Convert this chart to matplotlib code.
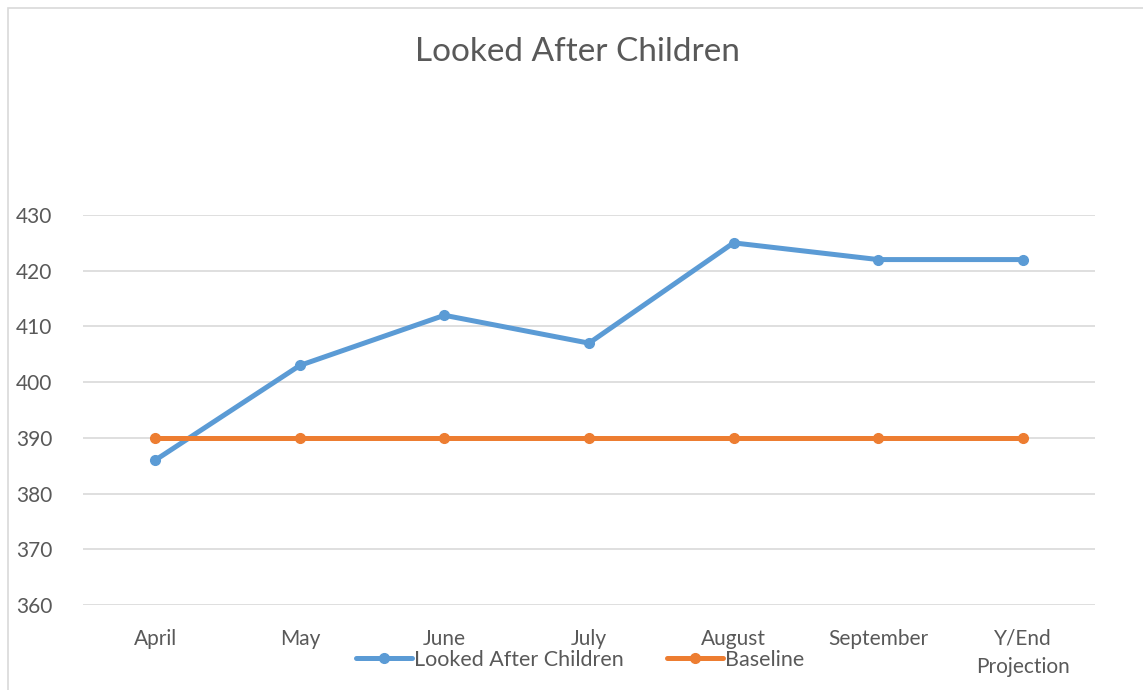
import matplotlib
matplotlib.use("Agg")
import matplotlib.pyplot as plt
from matplotlib.patches import Rectangle

categories = ["April", "May", "June", "July", "August", "September", "Y/End\nProjection"]
lac_values = [386, 403, 412, 407, 425, 422, 422]
baseline_values = [390, 390, 390, 390, 390, 390, 390]
y_ticks = [360, 370, 380, 390, 400, 410, 420, 430]

plt.rcParams['font.family'] = ['Lato', 'DejaVu Sans']
TXT = '#595959'
W, H = 1143, 690
fig = plt.figure(figsize=(W / 100, H / 100), dpi=100)
fig.patches.append(Rectangle((8 / W, -0.01), 1.2, (H - 8) / H + 0.01, transform=fig.transFigure,
                             fill=False, edgecolor='#D9D9D9', linewidth=1.2))

ax = fig.add_axes([83 / W, (H - 605) / H, (1095 - 83) / W, (605 - 215) / H])
x = list(range(len(categories)))
ax.plot(x, lac_values, color='#5B9BD5', linewidth=3.6, marker='o', markersize=7,
        label='Looked After Children', solid_capstyle='round', zorder=3)
ax.plot(x, baseline_values, color='#ED7D31', linewidth=3.6, marker='o', markersize=7,
        label='Baseline', solid_capstyle='round', zorder=3)

ax.set_xlim(-0.5, len(categories) - 0.5)
ax.set_ylim(360, 430)
ax.set_yticks(y_ticks)
ax.set_xticks(x)
ax.set_xticklabels(categories)
ax.grid(axis='y', color='#D9D9D9', linewidth=1.2)
ax.set_axisbelow(True)
for s in ax.spines.values():
    s.set_visible(False)
ax.tick_params(axis='both', length=0, labelsize=15, labelcolor=TXT)
ax.tick_params(axis='y', pad=22)
ax.tick_params(axis='x', pad=17)
for lbl in ax.get_xticklabels():
    lbl.set_linespacing(1.55)

fig.text(577 / W, 1 - 52 / H, 'Looked After Children', ha='center', va='center',
         fontsize=24, color=TXT)

fig.legend(loc='center', bbox_to_anchor=(580 / W, 1 - 660 / H), ncol=2, frameon=False,
           fontsize=15.5, labelcolor=TXT, handlelength=2.6, handletextpad=0.1,
           columnspacing=2.0)

fig.savefig('out.png', dpi=100, facecolor='white')
